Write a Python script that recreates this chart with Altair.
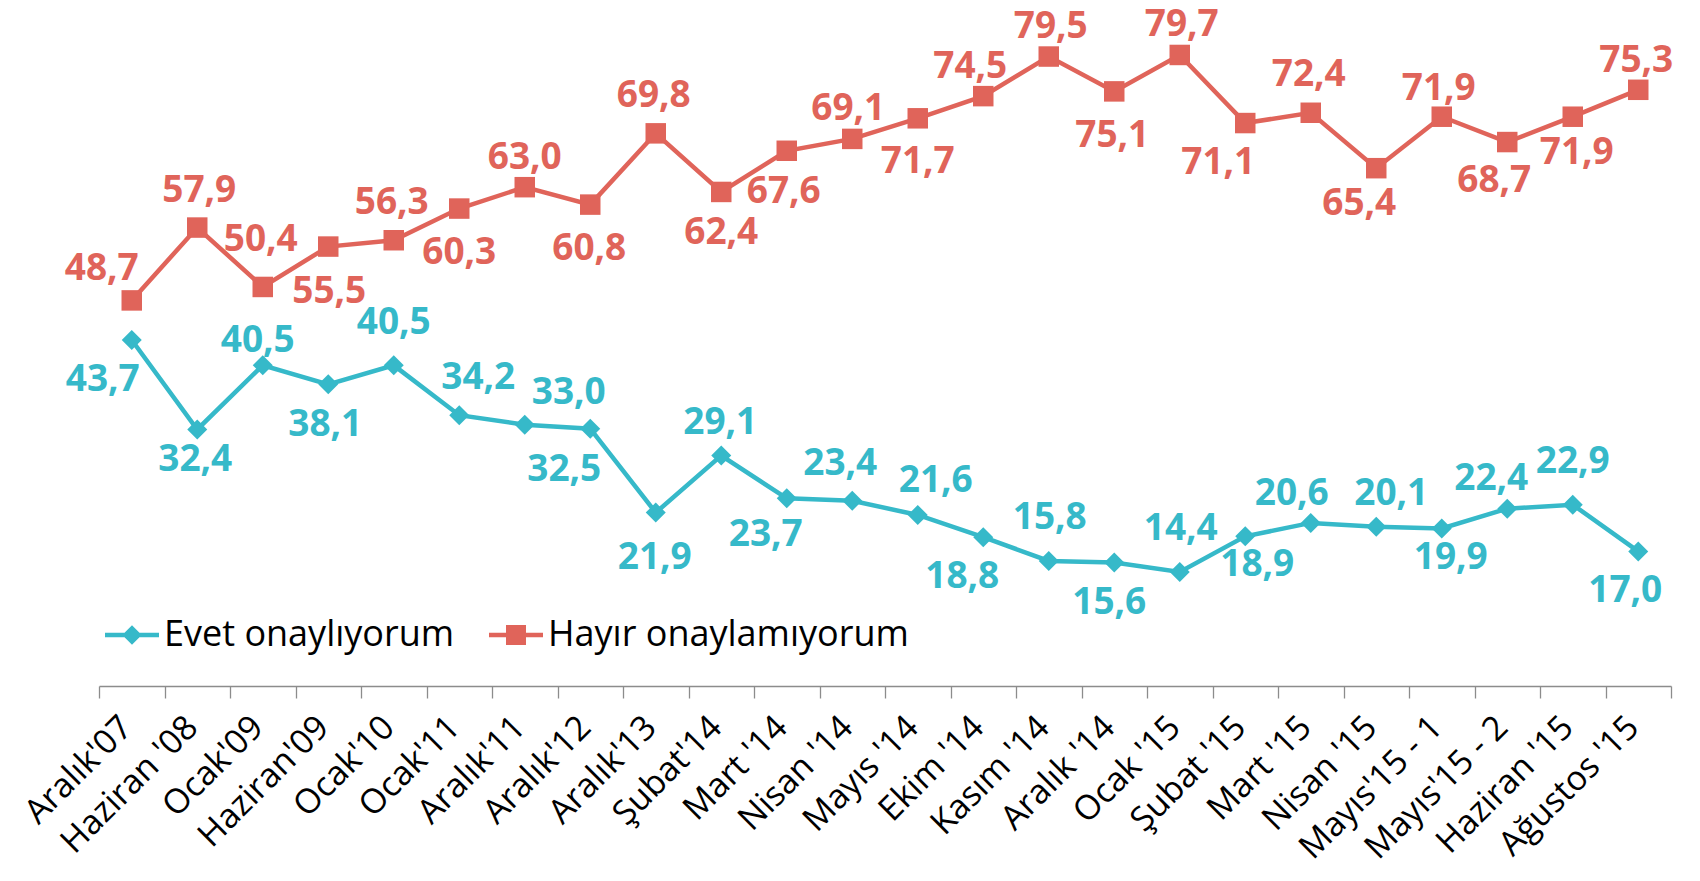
import altair as alt
import pandas as pd

categories = ["Aralık'07", "Haziran '08", "Ocak'09", "Haziran'09", "Ocak'10", "Ocak'11",
              "Aralık'11", "Aralık'12", "Aralık'13", "Şubat'14", "Mart '14", "Nisan '14",
              "Mayıs '14", "Ekim '14", "Kasım '14", "Aralık '14", "Ocak '15", "Şubat '15",
              "Mart '15", "Nisan '15", "Mayıs'15 - 1", "Mayıs'15 - 2", "Haziran '15", "Ağustos '15"]

series_names = ["Evet onaylıyorum", "Hayır onaylamıyorum"]

evet = [43.7, 32.4, 40.5, 38.1, 40.5, 34.2, 33.0, 32.5, 21.9, 29.1, 23.7, 23.4,
        21.6, 18.8, 15.8, 15.6, 14.4, 18.9, 20.6, 20.1, 19.9, 22.4, 22.9, 17.0]
hayir = [48.7, 57.9, 50.4, 55.5, 56.3, 60.3, 63.0, 60.8, 69.8, 62.4, 67.6, 69.1,
         71.7, 74.5, 79.5, 75.1, 79.7, 71.1, 72.4, 65.4, 71.9, 68.7, 71.9, 75.3]

# data-label placement relative to each point (pixels)
evet_dx = [-29, -2, -5, -3, 0, 19, 44, -26, -1, -1, -21, -12, 18, -21, 1, -5, 1, 12, -19, 15, 9, -16, 0, -13]
evet_dy = [40, 31, -24, 41, -42, -37, -32, 41, 45, -33, 37, -37, -34, 40, -43, 41, -43, 29, -29, -33, 30, -30, -43, 40]
hayir_dx = [-30, 2, -2, 1, -2, 0, 0, -1, -2, 0, -3, -4, 0, -13, 2, -2, 2, -27, -2, -17, -3, -13, 4, -2]
hayir_dy = [-31, -37, -47, 45, -37, 44, -29, 44, -37, 41, 41, -30, 44, -29, -30, 45, -30, 40, -38, 36, -28, 39, 36, -29]

CYAN = "#36B9C9"
RED = "#E0645A"
FONT = "Open Sans"

WIDTH = 1572
HEIGHT = 673
YMAX = 85
HALF_BAND = WIDTH / len(categories) / 2
UNITS_PER_PX = YMAX / HEIGHT


def frame(values, dxs, dys, name):
    return pd.DataFrame({
        "cat": categories,
        "value": values,
        "dx": dxs,
        "dy": dys,
        "series": name,
        "label": [f"{v:.1f}".replace(".", ",") for v in values],
    })


df = pd.concat([frame(evet, evet_dx, evet_dy, series_names[0]),
                frame(hayir, hayir_dx, hayir_dy, series_names[1])], ignore_index=True)

x_enc = alt.X("cat:N", sort=categories, title=None,
              scale=alt.Scale(type="band", paddingInner=0, paddingOuter=0),
              axis=alt.Axis(tickBand="extent", labelAngle=-45, labelAlign="right",
                            labelBaseline="middle", labelFont=FONT, labelFontSize=34,
                            labelColor="#000000", labelPadding=24, labelOffset=-5,
                            labelOverlap=False, labelBound=False, labelFlush=False,
                            labelLimit=400, tickSize=12, tickColor="#8c8c8c", tickWidth=1.3,
                            domainColor="#8c8c8c", domainWidth=1.3, grid=False))
y_scale = alt.Scale(domain=[0, YMAX], nice=False, zero=True)
y_enc = alt.Y("value:Q", scale=y_scale, axis=None)

base = alt.Chart(df)

layers = []
for name, color, shape, size in [(series_names[0], CYAN, "diamond", 400),
                                 (series_names[1], RED, "square", 420)]:
    sub = base.transform_filter(alt.datum.series == name)
    layers.append(sub.mark_line(color=color, strokeWidth=4.5).encode(x=x_enc, y=y_enc))
    layers.append(sub.mark_point(shape=shape, size=size, filled=True, opacity=1,
                                 color=color).encode(x=x_enc, y=y_enc))
    layers.append(sub.transform_calculate(
        ly=f"datum.value - datum.dy * {UNITS_PER_PX}",
        lx=f"datum.dx + {HALF_BAND}",
    ).mark_text(font=FONT, fontSize=37, fontWeight="bold", color=color,
                baseline="middle", align="center").encode(
        x=x_enc,
        y=alt.Y("ly:Q", scale=y_scale, axis=None),
        xOffset=alt.XOffset("lx:Q", scale=None),
        text="label:N"))

path_evet = "M-1,-0.083H1V0.083H-1Z M0,-0.36L0.36,0L0,0.36L-0.36,0Z"
path_hayir = "M-1,-0.083H1V0.083H-1Z M-0.37,-0.37H0.37V0.37H-0.37Z"

leg = alt.Legend(title=None, orient="none", legendX=6, legendY=595, direction="horizontal",
                 labelFont=FONT, labelFontSize=36, labelColor="#000000", labelLimit=500,
                 symbolSize=2916, symbolStrokeWidth=0, symbolOpacity=1, labelOffset=5,
                 columnPadding=34, padding=0)

legend_layer = base.transform_filter("false").mark_point(filled=True).encode(
    x=x_enc, y=y_enc,
    color=alt.Color("series:N", scale=alt.Scale(domain=series_names, range=[CYAN, RED]), legend=leg),
    shape=alt.Shape("series:N", scale=alt.Scale(domain=series_names, range=[path_evet, path_hayir]), legend=leg),
)

chart = alt.layer(*layers, legend_layer).properties(
    width=WIDTH, height=HEIGHT,
    autosize=alt.AutoSizeParams(type="none"),
    padding={"left": 91, "top": 5, "right": 8, "bottom": 186},
).configure_view(stroke=None)

chart.save("out.html", embed_options={"renderer": "svg", "actions": False})
